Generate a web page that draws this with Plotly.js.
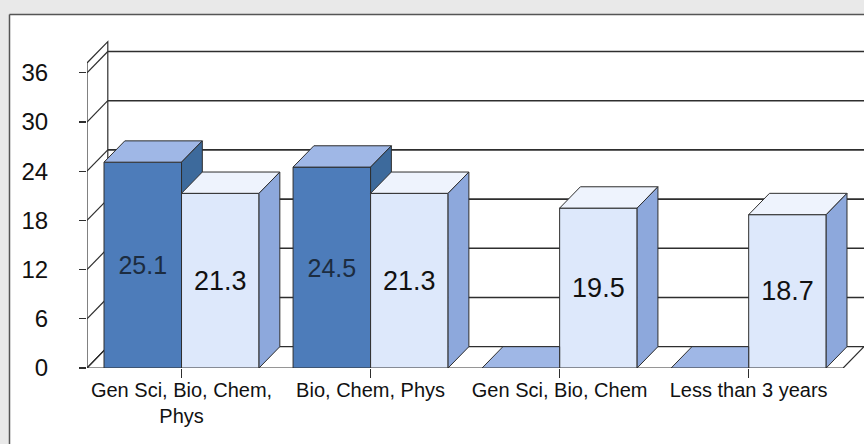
<!DOCTYPE html>
<html>
<head>
<meta charset="utf-8">
<script src="https://cdn.plot.ly/plotly-3.0.1.min.js"></script>
<style>html,body{margin:0;padding:0;background:#ffffff;}#chart{width:864px;height:444px;}</style>
</head>
<body>
<div id="chart"></div>
<script>
// ---- data ----
const categories = ['Gen Sci, Bio, Chem,<br>Phys', 'Bio, Chem, Phys', 'Gen Sci, Bio, Chem', 'Less than 3 years'];
const darkValues = [25.1, 24.5, 0, 0];
const lightValues = [21.3, 21.3, 19.5, 18.7];
const yTicks = [0, 6, 12, 18, 24, 30, 36];

// ---- styling / geometry (not data) ----
const FONT = '"Liberation Sans", Arial, sans-serif';
const EDGE = '#2e2e2e';
const DX = 0.11, DY = 2.6;         // 3D depth offsets (axis units)
const BARGAP = 0.18;
const BW = (1 - BARGAP) / 2;       // width of one bar
const X_MIN = -0.5, X_MAX = categories.length - 0.5;
const WALL_TOP = 37.2;
const COL = {
  darkFront: '#4d7cba', darkTop: '#9fb7e6', darkSide: '#3d6a9c',
  lightFront: '#dde8fb', lightTop: '#eef3fd', lightSide: '#8da8dc'
};
const W = 864, H = 444, ML = 87, MR = 0, MT = 40, MB = 76;

const xPos = categories.map((_, i) => i);

function face(pts, fill) {
  const xs = pts.map(p => p[0]); xs.push(pts[0][0]);
  const ys = pts.map(p => p[1]); ys.push(pts[0][1]);
  return {type: 'scatter', x: xs, y: ys, mode: 'lines', fill: 'toself', fillcolor: fill,
          line: {color: EDGE, width: 1}, hoverinfo: 'skip', showlegend: false};
}

const traces = [
  {type: 'bar', name: 'dark', x: xPos, y: darkValues,
   text: darkValues.map(v => v > 0 ? v.toFixed(1) : ''),
   textposition: 'inside', insidetextanchor: 'middle', textangle: 0,
   insidetextfont: {family: FONT, size: 25, color: '#1c2c40'},
   marker: {color: COL.darkFront, line: {color: EDGE, width: 1}}, hoverinfo: 'skip'},
  {type: 'bar', name: 'light', x: xPos, y: lightValues,
   text: lightValues.map(v => v > 0 ? v.toFixed(1) : ''),
   textposition: 'inside', insidetextanchor: 'middle', textangle: 0,
   insidetextfont: {family: FONT, size: 27, color: '#111'},
   marker: {color: COL.lightFront, line: {color: EDGE, width: 1}}, hoverinfo: 'skip'}
];

xPos.forEach((xi, i) => {
  const d = darkValues[i], l = lightValues[i];
  const x0 = xi - BW, xm = xi, x1 = xi + BW;
  if (d >= l) {
    traces.push(face([[x0, d], [xm, d], [xm + DX, d + DY], [x0 + DX, d + DY]], COL.darkTop));
  } else {
    traces.push(face([[x0, d], [xm, d], [xm, d + DY], [x0 + DX, d + DY]], COL.darkTop));
  }
  if (d > l) {
    traces.push(face([[xm, l], [xm, d], [xm + DX, d + DY], [xm + DX, l]], COL.darkSide));
  }
  traces.push(face([[xm, l], [x1, l], [x1 + DX, l + DY], [xm + DX, l + DY]], COL.lightTop));
  traces.push(face([[x1, 0], [x1 + DX, DY], [x1 + DX, l + DY], [x1, l]], COL.lightSide));
});

// ---- frame (paper coords are relative to the plot area) ----
const pw = W - ML - MR, ph = H - MT - MB;
const px2x = p => (p - ML) / pw;
const py2y = p => (H - MB - p) / ph;
const FX = px2x(9.5), FY = py2y(14.5);
const XL = px2x(-5), XR = px2x(W + 5), YB = py2y(H + 5), YT = py2y(-5);
const shapes = [
  {type: 'rect', xref: 'paper', yref: 'paper', x0: XL, x1: FX, y0: YB, y1: YT,
   fillcolor: '#e9e9e9', line: {width: 0}, layer: 'above'},
  {type: 'rect', xref: 'paper', yref: 'paper', x0: XL, x1: XR, y0: FY, y1: YT,
   fillcolor: '#e9e9e9', line: {width: 0}, layer: 'above'},
  {type: 'line', xref: 'paper', yref: 'paper', x0: FX, x1: XR, y0: FY, y1: FY,
   line: {color: '#555', width: 1.5}, layer: 'above'},
  {type: 'line', xref: 'paper', yref: 'paper', x0: FX, x1: FX, y0: YB, y1: FY,
   line: {color: '#555', width: 1.5}, layer: 'above'},
  {type: 'path', xref: 'x', yref: 'y', layer: 'below',
   path: `M ${X_MIN},0 L ${X_MIN},${WALL_TOP} L ${X_MIN + DX},${WALL_TOP + DY} L ${X_MIN + DX},${DY} Z`,
   fillcolor: '#ffffff', line: {color: EDGE, width: 1.2}},
  {type: 'path', xref: 'x', yref: 'y', layer: 'below',
   path: `M ${X_MIN},0 L ${X_MAX},0 L ${X_MAX + DX},${DY} L ${X_MIN + DX},${DY} Z`,
   fillcolor: '#ffffff', line: {color: EDGE, width: 1.2}}
];
yTicks.forEach(v => {
  shapes.push({type: 'line', xref: 'x', yref: 'y', layer: 'below',
    x0: X_MIN, y0: v, x1: X_MIN + DX, y1: v + DY, line: {color: EDGE, width: 1.2}});
  if (v > 0) {
    shapes.push({type: 'line', xref: 'x', yref: 'y', layer: 'below',
      x0: X_MIN + DX, y0: v + DY, x1: X_MAX + DX + 0.2, y1: v + DY, line: {color: EDGE, width: 1.6}});
  }
});

const layout = {
  width: W, height: H,
  margin: {l: ML, r: MR, t: MT, b: MB},
  paper_bgcolor: '#ffffff', plot_bgcolor: 'rgba(0,0,0,0)',
  barmode: 'group', bargap: BARGAP, bargroupgap: 0,
  showlegend: false,
  font: {family: FONT, color: '#111'},
  xaxis: {range: [X_MIN, X_MAX + DX], tickvals: xPos, ticktext: categories,
          ticks: 'outside', ticklen: 9, tickcolor: EDGE, tickwidth: 1,
          ticklabelstandoff: -5,
          showgrid: false, zeroline: false, showline: false,
          tickfont: {family: FONT, size: 20, color: '#111'}, fixedrange: true},
  yaxis: {range: [0, 40], tickvals: yTicks, ticktext: yTicks.map(String),
          ticks: 'outside', ticklen: 7, tickcolor: EDGE, tickwidth: 1.2,
          ticklabelstandoff: 26,
          showgrid: false, zeroline: false, showline: false,
          tickfont: {family: FONT, size: 24, color: '#111'}, fixedrange: true},
  shapes: shapes
};

Plotly.newPlot('chart', traces, layout, {displayModeBar: false, staticPlot: true});
</script>
</body>
</html>
